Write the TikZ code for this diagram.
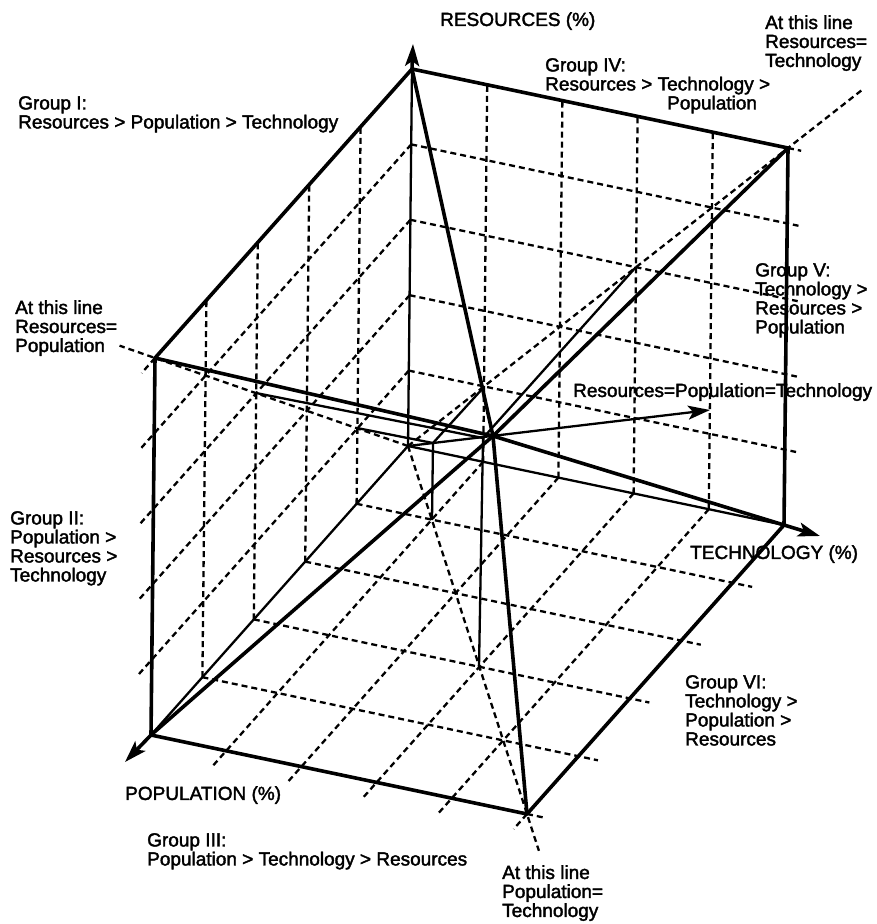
\documentclass[tikz,border=0pt]{standalone}
\usepackage{fontspec}
\setmainfont{Liberation Sans}[FakeBold=2]
\usetikzlibrary{calc,arrows.meta}
\begin{document}
\begin{tikzpicture}[x=1pt,y=-1pt,
  edge/.style={line width=3.6pt,line cap=round,line join=round},
  ax/.style={line width=2.3pt},
  dsh/.style={line width=2.3pt,dash pattern=on 6pt off 4pt},
  tip/.style={-{Stealth[length=22pt,width=14pt,inset=5pt]}},
  lbl/.style={font=\fontsize{19}{19}\selectfont,align=left,inner sep=0pt,anchor=north west}]
\useasboundingbox (0,0) rectangle (877,924);
% cube corners
\coordinate (O) at (408,446);
\coordinate (R) at (412,69);
\coordinate (T) at (784,525);
\coordinate (P) at (151,735);
\coordinate (RT) at (788,148);
\coordinate (RP) at (155,358);
\coordinate (PT) at (527,814);
\coordinate (C) at (493,436);
\coordinate (Rtip) at (413,44);
\coordinate (Ttip) at (820,536);
\coordinate (Ptip) at (125,762);
\coordinate (E) at (710,410);
% points on the equality diagonal and their projections
\coordinate (D1) at (433,443);
\coordinate (D1b) at (432,520);
\coordinate (D1l) at (357,428);
\coordinate (D1r) at (484,387);
\coordinate (D2) at (483,438);
\coordinate (D2b) at (479,667);
\coordinate (D2l) at (256,393);
\coordinate (D2r) at (636,267);
% grid
\foreach \k in {0.2,0.4,0.6,0.8}{
  % R-P face
  \draw[dsh] ($(O)!\k!(P)$) -- ($(R)!\k!(RP)$);
  \path ($(O)!\k!(R)$) coordinate (a) ($(P)!\k!(RP)$) coordinate (b);
  \draw[dsh] (a) -- ($(a)!1.052!(b)$);
  % R-T face
  \draw[dsh] ($(O)!\k!(T)$) -- ($(R)!\k!(RT)$);
  \path ($(O)!\k!(R)$) coordinate (a) ($(T)!\k!(RT)$) coordinate (b);
  \draw[dsh] (a) -- ($(a)!1.03!(b)$);
  % P-T face
  \path ($(O)!\k!(T)$) coordinate (a) ($(P)!\k!(PT)$) coordinate (b);
  \draw[dsh] (a) -- ($(a)!1.052!(b)$);
  \path ($(O)!\k!(P)$) coordinate (a) ($(T)!\k!(PT)$) coordinate (b);
  \draw[dsh] (a) -- ($(a)!1.052!(b)$);
}
% edge extensions
\draw[dsh] (RP) -- ($(R)!1.052!(RP)$);
\draw[dsh] (RT) -- ($(R)!1.035!(RT)$);
\draw[dsh] (PT) -- ($(P)!1.052!(PT)$);
\draw[dsh] (PT) -- ($(T)!1.052!(PT)$);
% equality diagonals
\draw[dsh] (O) -- ($(O)!1.14!(RP)$);
\draw[dsh] (O) -- ($(O)!1.195!(RT)$);
\draw[dsh] (O) -- ($(O)!1.1!(PT)$);
% axes
\draw[ax] (O) -- (R);
\draw[ax] (O) -- (T);
\draw[ax] (O) -- (P);
\draw[edge,tip] (R) -- (Rtip);
\draw[edge,tip] (T) -- (Ttip);
\draw[edge,tip] (P) -- (Ptip);
% cube edges
\draw[edge] (P) -- (RP) -- (R) -- (RT) -- (T) -- (PT) -- (P);
% lines through C
\draw[edge] (R) -- (C) -- (PT);
\draw[edge] (RP) -- (C) -- (T);
\draw[edge] (RT) -- (C) -- (P);
% main diagonal
\draw[ax,tip] (O) -- (E);
\draw[ax] (D1) -- (D1b);
\draw[ax] (D1l) -- (D1);
\draw[ax] (D1r) -- (D1);
\draw[ax] (D2) -- (D2b);
\draw[ax] (D2l) -- (D2);
\draw[ax] (D2r) -- (D2);
% labels
\node[lbl] (lres) at (440,12) {RESOURCES (\%)};
\node[lbl] (lrt) at (765,15) {At this line\\Resources=\\Technology};
\node[lbl] (g4) at (545,58) {Group IV:\\Resources > Technology >\\\hspace*{122pt}Population};
\node[lbl] (g1) at (18,96) {Group I:\\Resources > Population > Technology};
\node[lbl] (lrp) at (15,300) {At this line\\Resources=\\Population};
\node[lbl] (g5) at (755,263) {Group V:\\Technology >\\Resources >\\Population};
\node[lbl] (lrpt) at (573,383) {Resources=Population=Technology};
\node[lbl] (ltech) at (690,545) {TECHNOLOGY (\%)};
\node[lbl] (g2) at (10,511) {Group II:\\Population >\\Resources >\\Technology};
\node[lbl] (lpop) at (125,786) {POPULATION (\%)};
\node[lbl] (g3) at (147,833) {Group III:\\Population > Technology > Resources};
\node[lbl] (g6) at (685,675) {Group VI:\\Technology >\\Population >\\Resources};
\node[lbl] (lpt) at (502,865) {At this line\\Population=\\Technology};
\end{tikzpicture}
\end{document}
